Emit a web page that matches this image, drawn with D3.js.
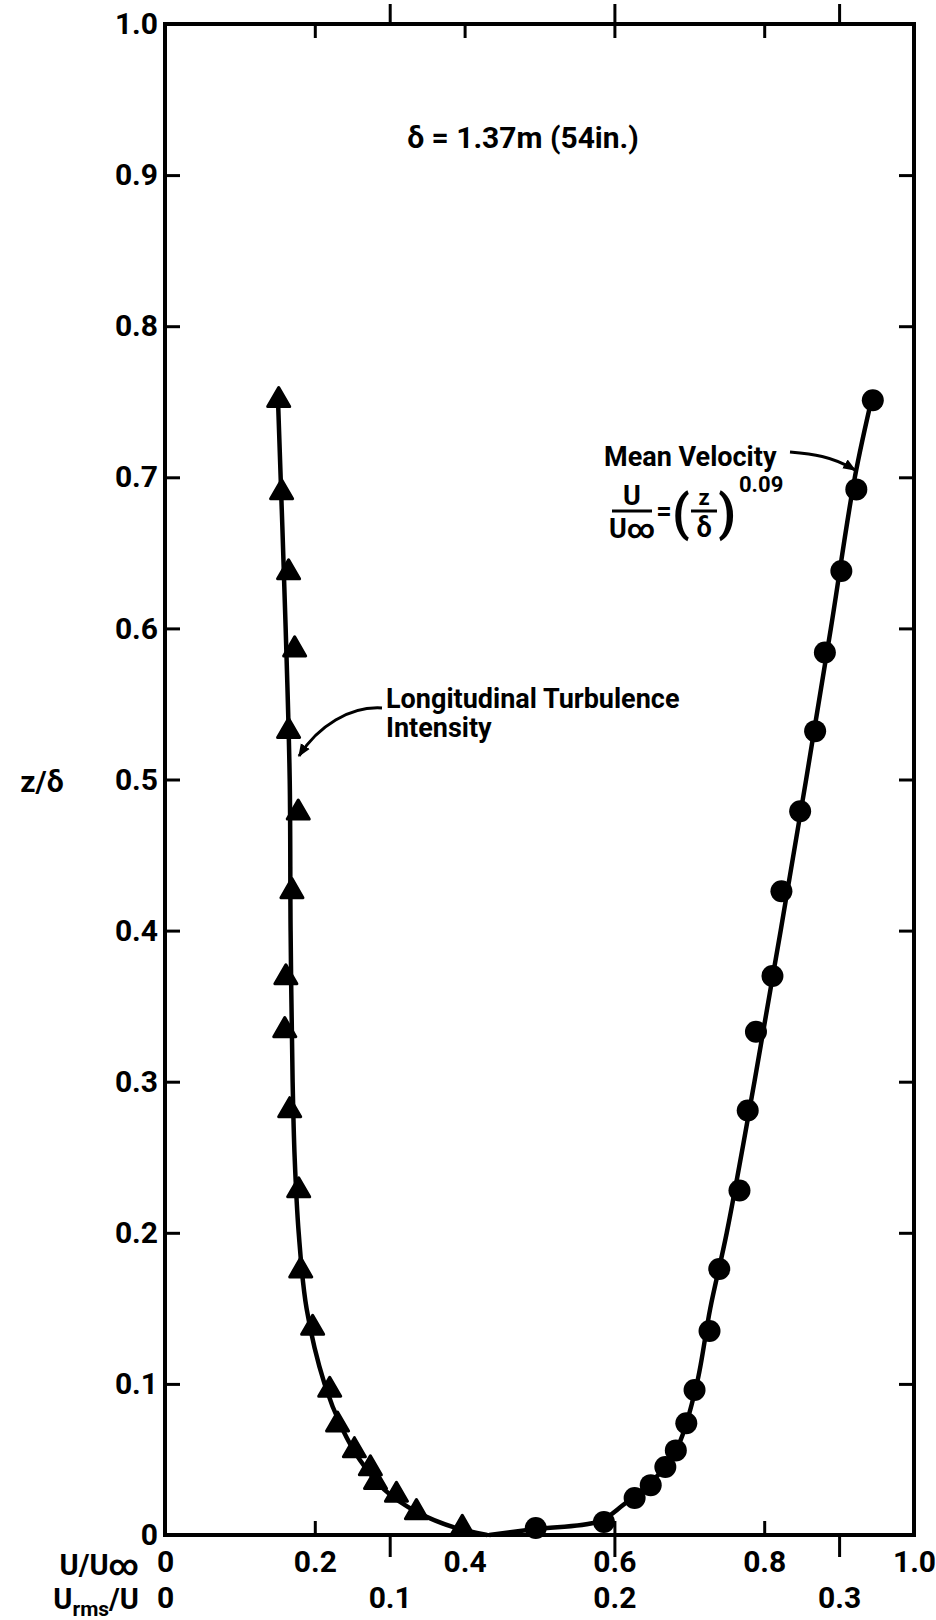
<!DOCTYPE html>
<html>
<head>
<meta charset="utf-8">
<script src="https://cdn.jsdelivr.net/npm/d3@7"></script>
<style>
  body { margin: 0; background: #fff; }
  svg { display: block; }
  text { font-family: Roboto, "DejaVu Sans", sans-serif; font-weight: 700; fill: #000; }
</style>
</head>
<body>
<svg id="chart" width="936" height="1620"></svg>
<script>
// measured points, longitudinal turbulence intensity (triangles)
const turbZ   = [0.751, 0.690, 0.637, 0.586, 0.532, 0.478, 0.426, 0.369, 0.334, 0.281, 0.228,
                 0.175, 0.137, 0.096, 0.073, 0.056, 0.044, 0.035, 0.0265, 0.015, 0.0046];
const turbRms = [0.0506, 0.0519, 0.0550, 0.0577, 0.0550, 0.0593, 0.0565, 0.0538, 0.0533, 0.0555, 0.0595,
                 0.0604, 0.0657, 0.0733, 0.0768, 0.0843, 0.0914, 0.0937, 0.1030, 0.1119, 0.1323];

// measured points, mean velocity (circles)
const meanZ = [0.751, 0.692, 0.638, 0.584, 0.532, 0.479, 0.426, 0.370, 0.333, 0.281, 0.228,
               0.176, 0.135, 0.096, 0.074, 0.056, 0.045, 0.033, 0.0245, 0.0086, 0.0046];
const meanU = [0.945, 0.923, 0.903, 0.881, 0.868, 0.848, 0.823, 0.811, 0.789, 0.778, 0.767,
               0.740, 0.727, 0.707, 0.696, 0.682, 0.668, 0.6485, 0.627, 0.586, 0.495];

// faired curves
const turbCurveZ   = [0.755, 0.6, 0.5, 0.4, 0.3, 0.25, 0.2, 0.15, 0.1, 0.07, 0.05, 0.03, 0.015, 0.005, 0];
const turbCurveRms = [0.0502, 0.0537, 0.0555, 0.0559, 0.0568, 0.0577, 0.0595, 0.0630, 0.0710, 0.0790,
                      0.0866, 0.0976, 0.1123, 0.1287, 0.1434];
const meanCurveZ = [0, 0.004, 0.009, 0.02, 0.04, 0.06, 0.1, 0.15, 0.2, 0.3, 0.4, 0.5, 0.6, 0.7, 0.755];
const meanCurveU = [0.433, 0.495, 0.579, 0.612, 0.659, 0.686, 0.710, 0.728, 0.750, 0.787, 0.822,
                    0.856, 0.889, 0.921, 0.945];

// tick values
const zTicks   = d3.range(0, 1.0001, 0.1);
const uTicks   = [0, 0.2, 0.4, 0.6, 0.8, 1.0];
const rmsTicks = [0, 0.1, 0.2, 0.3];

const svg = d3.select("#chart"),
      m = { left: 165, right: 914, top: 24, bottom: 1535 };

const y = d3.scaleLinear().domain([0, 1]).range([m.bottom, m.top]);
const xU = d3.scaleLinear().domain([0, 1]).range([m.left, m.right]);
const xR = d3.scaleLinear().domain([0, 1 / 3]).range([m.left, m.right]);

const fmt = d => d === 0 ? "0" : d3.format(".1f")(d);

function styleAxis(g) {
  g.select(".domain").remove();
  g.selectAll(".tick line").attr("stroke", "#000").attr("stroke-width", 3);
  g.selectAll(".tick text").style("font-size", "30px").attr("fill", "#000");
}

// left axis with labels, ticks inward
svg.append("g")
  .attr("transform", `translate(${m.left},0)`)
  .call(d3.axisLeft(y).tickValues(zTicks).tickFormat(fmt).tickSizeInner(-15).tickSizeOuter(0).tickPadding(7))
  .call(styleAxis);

// right axis, ticks only
svg.append("g")
  .attr("transform", `translate(${m.right},0)`)
  .call(d3.axisRight(y).tickValues(zTicks.slice(1, -1)).tickFormat("").tickSizeInner(-15).tickSizeOuter(0))
  .call(styleAxis);

// bottom U/Uinf axis: ticks inward
svg.append("g")
  .attr("transform", `translate(0,${m.bottom})`)
  .call(d3.axisBottom(xU).tickValues(uTicks).tickFormat(fmt).tickSizeInner(-14).tickSizeOuter(0).tickPadding(16))
  .call(styleAxis)
  .call(g => g.selectAll(".tick line").filter(d => d === 0 || d === 1).remove());

// bottom Urms/U axis: ticks outward
svg.append("g")
  .attr("transform", `translate(0,${m.bottom})`)
  .call(d3.axisBottom(xR).tickValues(rmsTicks).tickFormat(fmt).tickSizeInner(22).tickSizeOuter(0).tickPadding(30))
  .call(styleAxis)
  .call(g => g.selectAll(".tick line").filter(d => d === 0).remove());

// top axes, mirrored ticks
svg.append("g")
  .attr("transform", `translate(0,${m.top})`)
  .call(d3.axisTop(xU).tickValues(uTicks.slice(1, -1)).tickFormat("").tickSizeInner(-14).tickSizeOuter(0))
  .call(styleAxis);
svg.append("g")
  .attr("transform", `translate(0,${m.top})`)
  .call(d3.axisTop(xR).tickValues(rmsTicks.slice(1)).tickFormat("").tickSizeInner(20).tickSizeOuter(0))
  .call(styleAxis);

// frame
svg.append("rect")
  .attr("x", m.left).attr("y", m.top)
  .attr("width", m.right - m.left).attr("height", m.bottom - m.top)
  .attr("fill", "none").attr("stroke", "#000").attr("stroke-width", 4);

// axis titles
svg.append("text").attr("x", 139).attr("y", 1575).attr("text-anchor", "end")
  .style("font-size", "29px").text("U/U\u221E");
const rmsLabel = svg.append("text").attr("x", 139).attr("y", 1609).attr("text-anchor", "end")
  .style("font-size", "29px");
rmsLabel.append("tspan").text("U");
rmsLabel.append("tspan").attr("dy", 7).style("font-size", "21px").text("rms");
rmsLabel.append("tspan").attr("dy", -7).text("/U");

svg.append("text").attr("x", 42).attr("y", 792).attr("text-anchor", "middle")
  .style("font-size", "30px").text("z/\u03B4");

svg.append("text").attr("x", 523).attr("y", 148).attr("text-anchor", "middle")
  .style("font-size", "30px").text("\u03B4 = 1.37m (54in.)");

// curves
const line = d3.line().curve(d3.curveCatmullRom.alpha(0.5));
svg.append("path")
  .attr("d", line(turbCurveZ.map((z, i) => [xR(turbCurveRms[i]), y(z)])))
  .attr("fill", "none").attr("stroke", "#000").attr("stroke-width", 4.5);
svg.append("path")
  .attr("d", line(meanCurveZ.map((z, i) => [xU(meanCurveU[i]), y(z)])))
  .attr("fill", "none").attr("stroke", "#000").attr("stroke-width", 4.5);

// markers
svg.append("g").selectAll("path")
  .data(turbZ.map((z, i) => ({ z, v: turbRms[i] })))
  .join("path")
  .attr("transform", d => `translate(${xR(d.v)},${y(d.z)})`)
  .attr("d", d3.symbol(d3.symbolTriangle, 210))
  .attr("fill", "#000").attr("stroke", "#000").attr("stroke-width", 3).attr("stroke-linejoin", "round");

svg.append("g").selectAll("circle")
  .data(meanZ.map((z, i) => ({ z, v: meanU[i] })))
  .join("circle")
  .attr("cx", d => xU(d.v)).attr("cy", d => y(d.z))
  .attr("r", 11).attr("fill", "#000");

// annotations
svg.append("defs").append("marker")
  .attr("id", "head").attr("viewBox", "0 0 10 10").attr("refX", 9).attr("refY", 5)
  .attr("markerWidth", 13).attr("markerHeight", 13).attr("markerUnits", "userSpaceOnUse")
  .attr("orient", "auto")
  .append("path").attr("d", "M0,1 L10,5 L0,9 z").attr("fill", "#000");

const turbNote = svg.append("text").attr("x", 386).style("font-size", "27px");
turbNote.append("tspan").attr("x", 386).attr("y", 708).text("Longitudinal Turbulence");
turbNote.append("tspan").attr("x", 386).attr("y", 737).text("Intensity");
svg.append("path")
  .attr("d", "M382,708 C350,706 318,726 299,756")
  .attr("fill", "none").attr("stroke", "#000").attr("stroke-width", 3)
  .attr("marker-end", "url(#head)");

svg.append("text").attr("x", 604).attr("y", 466).style("font-size", "27px").text("Mean Velocity");
svg.append("path")
  .attr("d", "M790,452 C812,454 832,456 855,470")
  .attr("fill", "none").attr("stroke", "#000").attr("stroke-width", 3)
  .attr("marker-end", "url(#head)");

// U/Uinf = (z/delta)^0.09
const eq = svg.append("g").style("font-size", "27px");
eq.append("text").attr("x", 632).attr("y", 505).attr("text-anchor", "middle").text("U");
eq.append("line").attr("x1", 612).attr("x2", 652).attr("y1", 511).attr("y2", 511)
  .attr("stroke", "#000").attr("stroke-width", 3);
eq.append("text").attr("x", 632).attr("y", 538).attr("text-anchor", "middle").text("U\u221E");
eq.append("text").attr("x", 664).attr("y", 520).attr("text-anchor", "middle").text("=");
eq.append("text").attr("x", 681).attr("y", 530).attr("text-anchor", "middle")
  .style("font-size", "50px").text("(");
eq.append("text").attr("x", 727).attr("y", 530).attr("text-anchor", "middle")
  .style("font-size", "50px").text(")");
eq.append("text").attr("x", 704).attr("y", 505).attr("text-anchor", "middle").style("font-size", "22px").text("z");
eq.append("line").attr("x1", 691).attr("x2", 717).attr("y1", 511).attr("y2", 511)
  .attr("stroke", "#000").attr("stroke-width", 3);
eq.append("text").attr("x", 704).attr("y", 537).attr("text-anchor", "middle").text("\u03B4");
eq.append("text").attr("x", 739).attr("y", 492).style("font-size", "22px").text("0.09");
</script>
</body>
</html>
